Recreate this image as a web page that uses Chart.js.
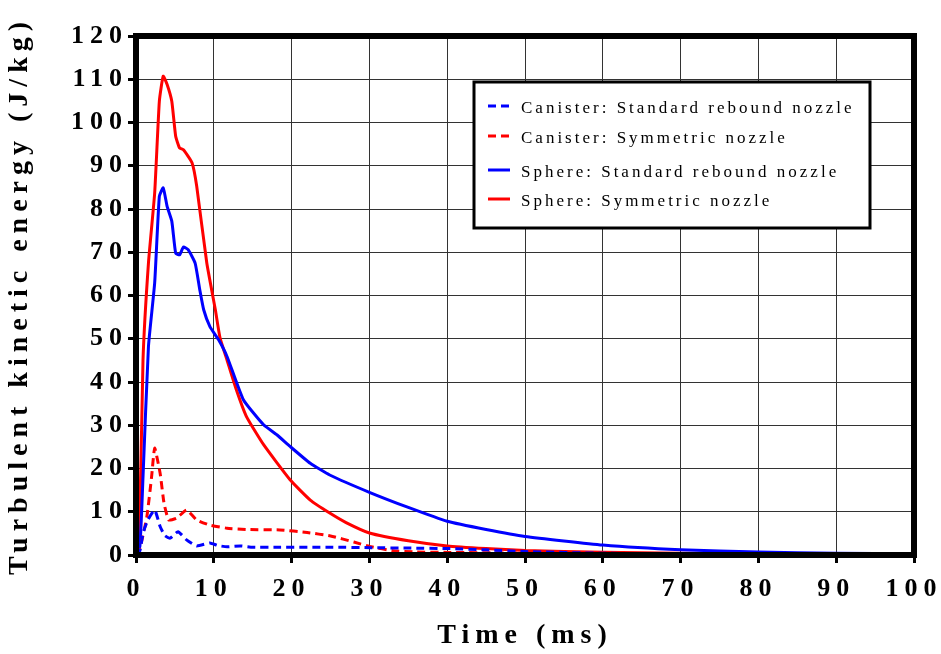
<!DOCTYPE html>
<html>
<head>
<meta charset="utf-8">
<script src="https://cdn.jsdelivr.net/npm/chart.js@4.4.0/dist/chart.umd.min.js"></script>
<style>
  html, body { margin: 0; padding: 0; background: #fff; }
  #wrap { width: 941px; height: 654px; }
</style>
</head>
<body>
<div id="wrap"><canvas id="tkeChart"></canvas></div>
<script>
// Canister, standard rebound nozzle (blue dashed)
const canStdTime = [0, 0.5, 0.9, 1.5, 2.4, 3.1, 3.7, 4.4, 5.4, 6.5, 7.8, 9.5, 10.5, 11.7, 13.4, 15, 18.5, 25, 30, 35, 40, 45, 50, 60, 70, 80, 90, 100];
const canStdVal  = [0, 1, 5, 8, 10.4, 6.6, 4.5, 3.9, 5.4, 3.5, 2.1, 2.8, 2.2, 1.9, 2.1, 1.8, 1.8, 1.8, 1.7, 1.6, 1.5, 1.2, 0.8, 0.4, 0.25, 0.15, 0.1, 0.05];

// Canister, symmetric nozzle (red dashed)
const canSymTime = [0, 0.5, 1.4, 2.0, 2.4, 3.1, 3.6, 4.2, 5.2, 6.5, 7.8, 9.5, 11.7, 14.2, 18.5, 22, 25, 28, 30, 33, 36, 40, 50, 60, 70, 80, 90, 100];
const canSymVal  = [0, 1.5, 8.9, 18, 24.7, 18.9, 12, 8.1, 8.5, 10.4, 8.1, 6.9, 6.2, 5.9, 5.8, 5.2, 4.4, 3, 2, 1, 0.7, 0.6, 0.45, 0.35, 0.3, 0.25, 0.2, 0.2];

// Sphere, standard rebound nozzle (blue solid)
const sphStdTime = [0, 0.5, 0.9, 1.6, 2.4, 3.0, 3.5, 4.0, 4.6, 5.1, 5.6, 6.1, 6.7, 7.6, 8.2, 8.7, 9.5, 10.6, 11.7, 13.8, 16.4, 18.1, 19.8, 22.4, 24.9, 30, 35, 40, 45, 50, 60, 70, 80, 90, 100];
const sphStdVal  = [0, 2, 18, 48.2, 62.9, 82.9, 84.9, 80.6, 77.2, 69.8, 69.4, 71.2, 70.6, 67.5, 61.3, 56.7, 52.8, 49.8, 45.9, 35.9, 30.1, 27.8, 25.1, 21.2, 18.5, 14.5, 11, 7.8, 5.9, 4.3, 2.3, 1.2, 0.7, 0.4, 0.25];

// Sphere, symmetric nozzle (red solid)
const sphSymTime = [0, 0.4, 0.9, 1.6, 2.4, 3.0, 3.5, 4.0, 4.6, 5.1, 5.6, 6.1, 7.2, 7.8, 9.1, 10.2, 10.8, 11.7, 12.9, 14.2, 16.4, 19.8, 22.4, 24.9, 27, 30, 35, 40, 45, 50, 60, 70, 80, 90, 100];
const sphSymVal  = [0, 2, 45, 67.5, 83.7, 104.9, 110.7, 108.8, 104.9, 96.8, 94.1, 93.7, 90.7, 85.3, 67.5, 56.7, 50.2, 45.1, 38.2, 32.0, 25.5, 17.4, 12.7, 9.7, 7.5, 5.1, 3.3, 2.1, 1.5, 1.05, 0.65, 0.4, 0.3, 0.2, 0.15];

const seriesLabels = [
    'Canister: Standard rebound nozzle',
    'Canister: Symmetric nozzle',
    'Sphere: Standard rebound nozzle',
    'Sphere: Symmetric nozzle'
];

const xTicks = [0, 10, 20, 30, 40, 50, 60, 70, 80, 90, 100];
const yTicks = [0, 10, 20, 30, 40, 50, 60, 70, 80, 90, 100, 110, 120];

const serif = '"Liberation Serif", "Times New Roman", serif';

function toPoints(times, values) {
    return times.map((t, i) => ({ x: t, y: values[i] }));
}

// widen the letters like the original typesetting
const spacingPlugin = {
    id: 'spacing',
    beforeUpdate(chart) { chart.ctx.letterSpacing = '6px'; },
    beforeDraw(chart) { chart.ctx.letterSpacing = '6px'; }
};

// thick frame round the plot area
const framePlugin = {
    id: 'frame',
    afterDatasetsDraw(chart) {
        const { ctx, chartArea: a } = chart;
        ctx.save();
        ctx.strokeStyle = '#000';
        ctx.lineWidth = 6;
        ctx.strokeRect(a.left, a.top, a.right - a.left, a.bottom - a.top);
        ctx.restore();
    }
};

// boxed legend inside the plot
const legendBoxPlugin = {
    id: 'legendBox',
    afterDraw(chart) {
        const ctx = chart.ctx;
        const box = { x: 474, y: 82, w: 396, h: 146 };
        const rowY = [109, 139, 173, 202];
        ctx.save();
        ctx.fillStyle = '#fff';
        ctx.fillRect(box.x, box.y, box.w, box.h);
        ctx.strokeStyle = '#000';
        ctx.lineWidth = 3;
        ctx.strokeRect(box.x, box.y, box.w, box.h);
        ctx.letterSpacing = '3px';
        ctx.font = '17px ' + serif;
        ctx.textBaseline = 'middle';
        chart.data.datasets.forEach((ds, i) => {
            const y = rowY[i];
            ctx.strokeStyle = ds.borderColor;
            ctx.lineWidth = 3;
            ctx.setLineDash(ds.borderDash || []);
            ctx.beginPath();
            ctx.moveTo(488, y - 3);
            ctx.lineTo(510, y - 3);
            ctx.stroke();
            ctx.setLineDash([]);
            ctx.fillStyle = '#000';
            ctx.fillText(ds.label, 521, y);
        });
        ctx.restore();
    }
};

const ctx = document.getElementById('tkeChart').getContext('2d');
const chart = new Chart(ctx, {
    type: 'line',
    data: {
        datasets: [
            { label: seriesLabels[0], data: toPoints(canStdTime, canStdVal), borderColor: '#0000ff', borderDash: [8, 5] },
            { label: seriesLabels[1], data: toPoints(canSymTime, canSymVal), borderColor: '#ff0000', borderDash: [8, 5] },
            { label: seriesLabels[2], data: toPoints(sphStdTime, sphStdVal), borderColor: '#0000ff' },
            { label: seriesLabels[3], data: toPoints(sphSymTime, sphSymVal), borderColor: '#ff0000' }
        ]
    },
    options: {
        responsive: true,
        maintainAspectRatio: false,
        animation: false,
        elements: {
            point: { radius: 0 },
            line: { borderWidth: 3, tension: 0.15, fill: false }
        },
        layout: { padding: { top: 36, right: 27, bottom: 0, left: 0 } },
        plugins: {
            legend: { display: false },
            tooltip: { enabled: false }
        },
        scales: {
            x: {
                type: 'linear',
                min: 0,
                max: 100,
                afterBuildTicks(scale) { scale.ticks = xTicks.map(v => ({ value: v })); },
                afterFit(scale) {
                    scale.height = 99;
                    scale.paddingLeft = 0;
                    scale.paddingRight = 0;
                },
                grid: { color: '#333', lineWidth: 1, tickLength: 8, tickWidth: 3, tickColor: '#000' },
                border: { display: false },
                ticks: {
                    color: '#000',
                    padding: 11,
                    maxRotation: 0,
                    font: { family: serif, size: 26, weight: 'bold' }
                },
                title: {
                    display: true,
                    text: 'Time (ms)',
                    color: '#000',
                    padding: { top: 0, bottom: 1 },
                    font: { family: serif, size: 28, weight: 'bold' }
                }
            },
            y: {
                min: 0,
                max: 120,
                afterBuildTicks(scale) { scale.ticks = yTicks.map(v => ({ value: v })); },
                afterFit(scale) {
                    scale.width = 136;
                    scale.paddingTop = 0;
                    scale.paddingBottom = 0;
                },
                grid: { color: '#333', lineWidth: 1, tickLength: 8, tickWidth: 3, tickColor: '#000' },
                border: { display: false },
                ticks: {
                    color: '#000',
                    padding: 0,
                    font: { family: serif, size: 26, weight: 'bold' }
                },
                title: {
                    display: true,
                    text: 'Turbulent kinetic energy (J/kg)',
                    color: '#000',
                    padding: { top: 3, bottom: 0 },
                    font: { family: serif, size: 28, weight: 'bold' }
                }
            }
        }
    },
    plugins: [spacingPlugin, framePlugin, legendBoxPlugin]
});
</script>
</body>
</html>
